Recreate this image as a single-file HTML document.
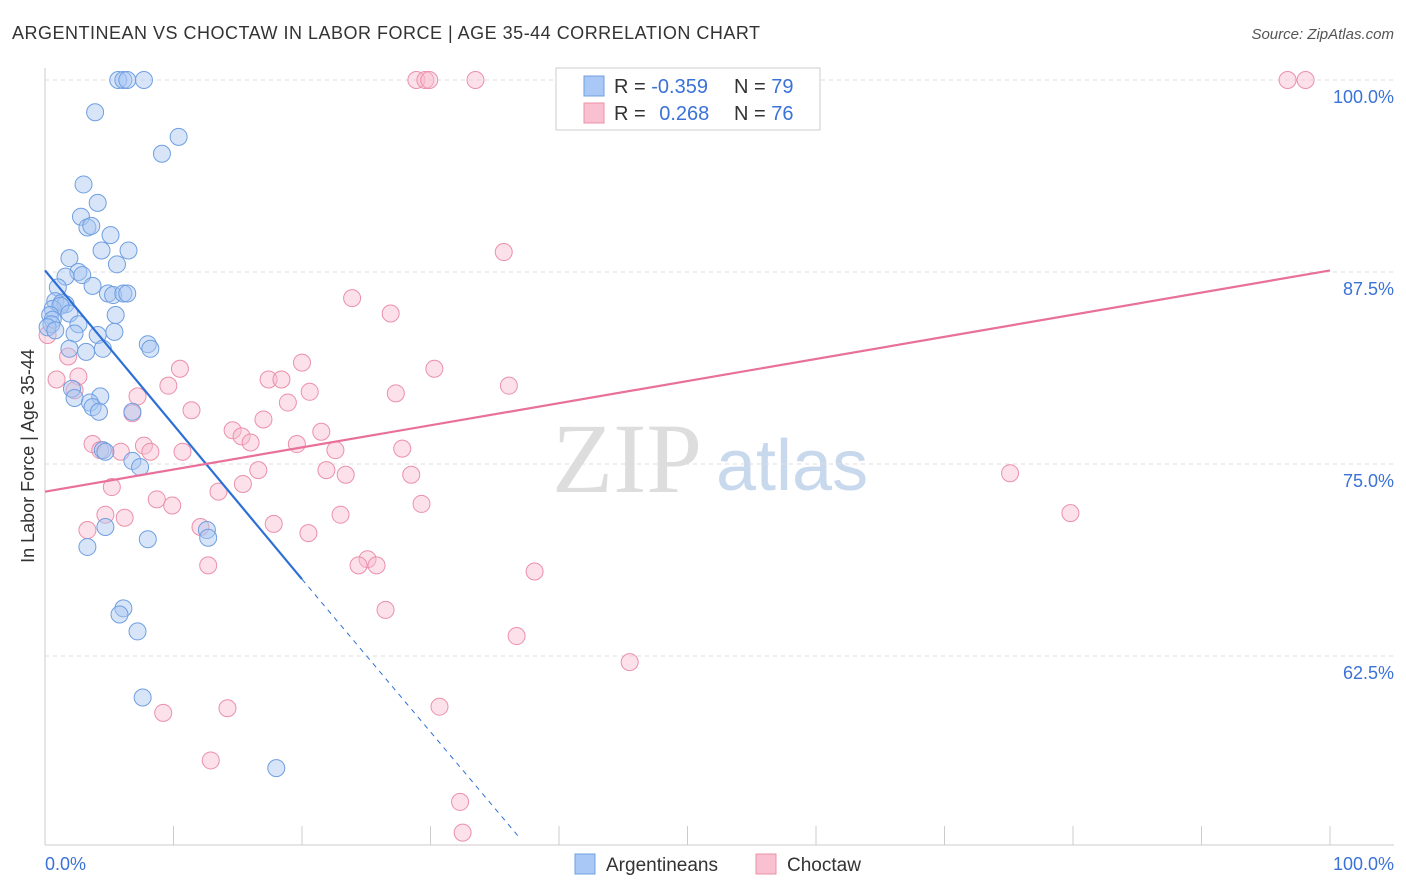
<!DOCTYPE html>
<html><head><meta charset="utf-8"><style>
body{margin:0;background:#fff;font-family:"Liberation Sans",sans-serif}
svg{display:block}
</style></head><body>
<svg id="chart" width="1406" height="892">
<text x="12" y="39" font-size="18" fill="#333" textLength="748">ARGENTINEAN VS CHOCTAW IN LABOR FORCE | AGE 35-44 CORRELATION CHART</text>
<text x="1394" y="39" font-size="15" fill="#555" text-anchor="end" font-style="italic">Source: ZipAtlas.com</text>
<g>
<text x="552" y="492" font-size="100" font-family="Liberation Serif,serif" fill="#ddd">ZIP</text>
<text x="716" y="490" font-size="72" fill="#c8d9ee">atlas</text>
</g>
<g id="grid"></g><g id="axes"></g><g id="pts"></g><g id="lines"></g>
<text transform="translate(34,456) rotate(-90)" font-size="18" fill="#333" text-anchor="middle">In Labor Force | Age 35-44</text>
<text x="45" y="870" font-size="18" fill="#3a72d8">0.0%</text>
<text x="1394" y="870" font-size="18" fill="#3a72d8" text-anchor="end">100.0%</text>
<g>
<rect x="556" y="68" width="264" height="62" fill="#fff" stroke="#ccc"/>
<rect x="584" y="76" width="20" height="20" fill="#aac8f5" stroke="#6f9fe0"/>
<rect x="584" y="103" width="20" height="20" fill="#f8c0d0" stroke="#eb90aa"/>
<text x="614" y="93" font-size="20" fill="#333">R = <tspan fill="#3a72d8">-0.359</tspan></text>
<text x="734" y="93" font-size="20" fill="#333">N = <tspan fill="#3a72d8">79</tspan></text>
<text x="614" y="120" font-size="20" fill="#333">R =  <tspan fill="#3a72d8" dx="8">0.268</tspan></text>
<text x="734" y="120" font-size="20" fill="#333">N = <tspan fill="#3a72d8">76</tspan></text>
</g>
<g>
<rect x="575" y="854" width="20" height="20" fill="#aac8f5" stroke="#6f9fe0"/>
<text x="606" y="871" font-size="19" fill="#333">Argentineans</text>
<rect x="756" y="854" width="20" height="20" fill="#f8c0d0" stroke="#eb90aa"/>
<text x="787" y="871" font-size="19" fill="#333">Choctaw</text>
</g>
</svg>
<script>
const yTicks=[100,87.5,75,62.5];
const yTickLabels=["100.0%","87.5%","75.0%","62.5%"];
const blueX=[5.7,6.1,6.4,7.7,3.9,10.4,9.1,3.0,4.1,2.8,3.3,3.6,5.1,4.4,6.5,1.9,5.6,2.6,2.9,1.6,3.7,1.0,4.9,5.3,6.1,6.4,0.8,1.3,1.6,0.6,1.2,1.9,5.5,0.4,0.6,0.5,2.6,0.2,0.8,2.3,4.1,5.4,1.9,3.2,4.5,8.0,8.2,2.1,4.3,2.3,3.5,3.7,4.2,6.8,4.5,4.7,6.8,7.4,12.6,12.7,4.7,8.0,3.3,6.1,5.8,7.2,7.6,18.0];
const blueY=[100,100,100,100,97.9,96.3,95.2,93.2,92.0,91.1,90.4,90.5,89.9,88.9,88.9,88.4,88.0,87.5,87.3,87.2,86.6,86.5,86.1,86.0,86.1,86.1,85.6,85.5,85.4,85.1,85.3,84.8,84.7,84.7,84.4,84.1,84.1,83.9,83.7,83.5,83.4,83.6,82.5,82.3,82.5,82.8,82.5,79.9,79.4,79.3,79.0,78.7,78.4,78.4,75.9,75.8,75.2,74.8,70.7,70.2,70.9,70.1,69.6,65.6,65.2,64.1,59.8,55.2];
const pinkX=[28.9,29.6,29.9,33.5,46.7,96.7,98.1,35.7,23.9,26.9,0.2,1.8,20.0,10.5,30.3,0.9,2.6,17.4,18.4,9.6,20.6,27.3,36.1,2.3,7.2,18.9,11.4,6.8,17.0,14.6,21.5,15.3,16.0,19.6,27.8,3.7,7.7,4.3,5.9,8.2,22.6,10.7,16.6,21.9,23.4,28.5,75.1,13.5,5.2,15.4,8.7,9.9,29.3,23.0,79.8,4.7,6.2,17.8,12.1,3.3,20.5,25.1,24.4,25.8,12.7,38.1,26.5,36.7,45.5,30.7,14.2,9.2,12.9,32.3,32.5];
const pinkY=[100,100,100,100,100,100,100,88.8,85.8,84.8,83.4,82.0,81.6,81.2,81.2,80.5,80.7,80.5,80.5,80.1,79.7,79.6,80.1,79.8,79.4,79.0,78.5,78.3,77.9,77.2,77.1,76.8,76.4,76.3,76.0,76.3,76.2,75.9,75.8,75.8,75.9,75.8,74.6,74.6,74.3,74.3,74.4,73.2,73.5,73.7,72.7,72.3,72.4,71.7,71.8,71.7,71.5,71.1,70.9,70.7,70.5,68.8,68.4,68.4,68.4,68.0,65.5,63.8,62.1,59.2,59.1,58.8,55.7,53.0,51.0];
const blueLine=[[0,87.6],[20,67.5]], blueDash=[[20,67.5],[37,50.6]];
const pinkLine=[[0,73.2],[100,87.6]];
const X=v=>45+v*12.85, Y=v=>80+(100-v)*15.36;
const NS="http://www.w3.org/2000/svg";
function mk(t,a,p){const e=document.createElementNS(NS,t);for(const k in a)e.setAttribute(k,a[k]);document.getElementById(p).appendChild(e);return e;}
yTicks.forEach((t,i)=>{
 const g=mk('line',{x1:45,x2:1394,y1:Y(t),y2:Y(t),stroke:'#ddd','stroke-dasharray':'4,4'},'grid');
 
 
 const l=mk('text',{x:1394,y:Y(t)+23,'font-size':18,fill:'#3a72d8','text-anchor':'end'},'grid');
 l.textContent=yTickLabels[i];
 
 
});
const ax=mk('line',{x1:45,x2:45,y1:68,y2:845,stroke:'#ccc'},'axes');


const bx=mk('line',{x1:45,x2:1394,y1:845,y2:845,stroke:'#ccc'},'axes');


for(let i=0;i<=10;i++){
 const t=mk('line',{x1:X(i*10),x2:X(i*10),y1:826,y2:845,stroke:'#ccc'},'axes');
 
 
}
function dots(xs,ys,fill,stroke,name){
 xs.forEach((v,i)=>{
  const c=mk('circle',{cx:X(v),cy:Y(ys[i]),r:8.5,fill:fill,'fill-opacity':0.45,stroke:stroke,'stroke-width':1},'pts');
  
  
 });
}
dots(pinkX,pinkY,'#f8bdd0','#eb90aa','choctaw-point');
dots(blueX,blueY,'#a9c6f2','#6f9fe0','argentinean-point');
function ln(p,col,dash,name){
 const l=mk('line',{x1:X(p[0][0]),y1:Y(p[0][1]),x2:X(p[1][0]),y2:Y(p[1][1]),stroke:col,'stroke-width':dash?1:2.2},'lines');
 if(dash)l.setAttribute('stroke-dasharray','5,5');
 
 
}
ln(blueLine,'#2d6fd6',false,'argentinean-trendline');
ln(blueDash,'#2d6fd6',true,'argentinean-trendline-extension');
ln(pinkLine,'#e8709a',false,'choctaw-trendline');
</script>
</body></html>
